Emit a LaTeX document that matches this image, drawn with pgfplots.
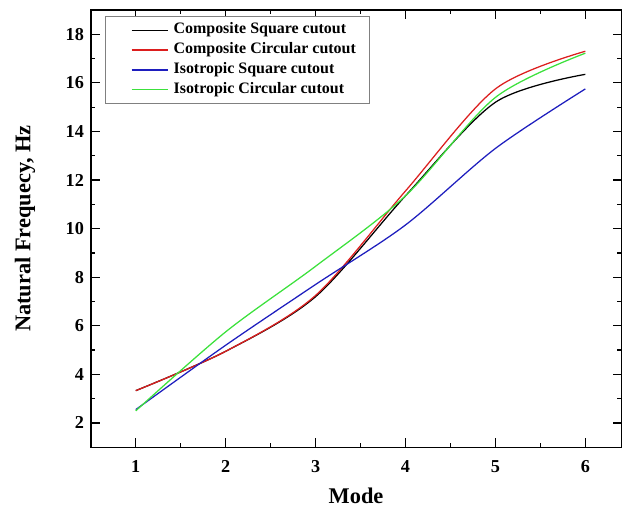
\documentclass[border=0pt]{standalone}
\usepackage{pgfplots}
\pgfplotsset{compat=1.18}
\usepackage{fontspec}
\setmainfont{Liberation Serif}
\definecolor{cred}{RGB}{220,30,30}
\definecolor{cblue}{RGB}{30,30,190}
\definecolor{cgreen}{RGB}{60,225,60}
\begin{document}
\begin{tikzpicture}
\begin{axis}[
    name=main,
    width=13.32cm, height=10.98cm,
    scale only axis,
    xmin=0.5, xmax=6.4,
    ymin=1, ymax=19,
    xtick={1,2,3,4,5,6},
    ytick={2,4,...,18},
    minor x tick num=1,
    minor y tick num=1,
    tick align=inside,
    major tick length=0.22cm,
    minor tick length=0.11cm,
    axis line style={line width=1pt},
    every tick/.style={black, line width=0.9pt},
    ticklabel style={font=\fontsize{13}{15}\selectfont\bfseries},
    /pgf/number format/assume math mode=true,
    xticklabel style={yshift=-0.2cm},
    yticklabel style={xshift=-0.05cm},
    xlabel={Mode},
    ylabel={Natural Frequecy, Hz},
    xlabel style={font=\fontsize{16}{18}\selectfont\bfseries, at={(axis description cs:0.5,-0.112)}, anchor=center},
    ylabel style={font=\fontsize{16}{18}\selectfont\bfseries, at={(axis description cs:-0.124,0.5)}, anchor=center},
    legend style={at={(axis description cs:0.026,0.986)}, anchor=north west,
        draw=gray, line width=0.6pt, font=\fontsize{11.4}{13}\selectfont\bfseries,
        inner xsep=0.35cm, inner ysep=3pt, row sep=0.7pt,
        nodes={inner xsep=0pt, inner ysep=1.5pt, text height=8pt, text depth=2.5pt}},
    legend cell align=left,
    legend image code/.code={\path (-0.3cm,0cm); \draw[#1] (0cm,0cm) -- (0.92cm,0cm); \path (1.04cm,0cm);},
    clip=false,
]
\addplot[black, line width=0.9pt, smooth] coordinates {(1,3.33) (2,4.95) (3,7.2) (4,11.35) (5,15.2) (6,16.35)};
\addlegendentry{Composite Square cutout}
\addplot[cred, line width=0.9pt, smooth] coordinates {(1,3.33) (2,4.95) (3,7.25) (4,11.55) (5,15.75) (6,17.3)};
\addlegendentry{Composite Circular cutout}
\addplot[cblue, line width=0.9pt, smooth] coordinates {(1,2.55) (2,5.2) (3,7.7) (4,10.15) (5,13.3) (6,15.75)};
\addlegendentry{Isotropic Square cutout}
\addplot[cgreen, line width=0.9pt, smooth] coordinates {(1,2.5) (2,5.75) (3,8.45) (4,11.35) (5,15.4) (6,17.22)};
\addlegendentry{Isotropic Circular cutout}
\end{axis}
\path ([shift={(-2.28cm,-1.55cm)}]main.south west) rectangle ([yshift=0.25cm]main.north east);
\end{tikzpicture}
\end{document}
